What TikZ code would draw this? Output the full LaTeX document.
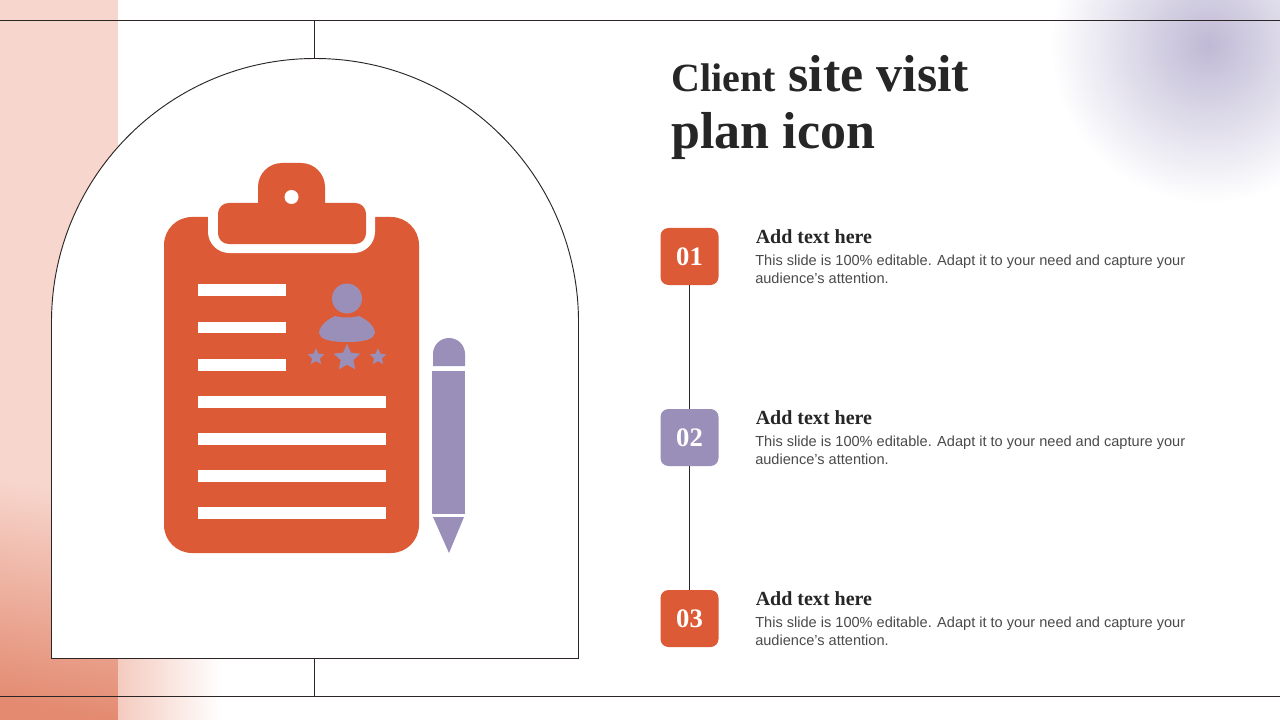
\documentclass[tikz,border=0pt]{standalone}
\usepackage{fontspec}
\usetikzlibrary{shapes.geometric}
\setmainfont{Liberation Sans}
\newfontfamily\headfont{Liberation Serif}
\definecolor{rust}{HTML}{DD5A36}
\definecolor{lilac}{HTML}{9A8FB9}
\definecolor{blush}{HTML}{F7D6CD}
\definecolor{salmon}{HTML}{E38A70}
\definecolor{haze}{HTML}{BFB9D5}
\definecolor{inkline}{HTML}{2B2526}
\definecolor{inktext}{HTML}{262626}
\definecolor{greytext}{HTML}{4A4A4A}
\tikzset{
  rule/.style={draw=inkline,line width=.7pt},
  badge/.style={fill=#1,rounded corners=6pt,minimum width=43.5pt,minimum height=42.75pt,inner sep=0pt,text=white,font=\headfont\bfseries\fontsize{20}{20}\selectfont},
  caption/.style={anchor=base west,inner sep=0pt,text=inktext,font=\headfont\bfseries\fontsize{15}{15}\selectfont},
  blurb/.style={anchor=north west,inner sep=0pt,align=left,text=greytext,font=\fontsize{10.93}{13.5}\selectfont},
  bigtitle/.style={anchor=base west,inner sep=0pt,text=inktext,font=\headfont\bfseries\fontsize{39}{39}\selectfont},
  ratestar/.style={star,star points=5,star point ratio=2.1,fill=lilac,inner sep=0pt,minimum size=#1},
}
\begin{document}
\begin{tikzpicture}[x=.75pt,y=-.75pt]
       \useasboundingbox (0,0) rectangle (1280,720);
       \fill [white] (0,0) rectangle (1280,720);
       \shade [inner color=haze,outer color=white] (1208,45) circle (158);
       \fill [blush] (0,0) rectangle (118,480);
       \shade [shading=axis,top color=blush,bottom color=salmon,shading angle=-10] (0,480) rectangle (118,720);
       \shade [left color=blush!85!salmon,right color=white] (118,658) rectangle (222,720);
       \draw [rule] (0,20.5) -- (1280,20.5);
       \draw [rule] (0,696.5) -- (1280,696.5);
       \draw [rule] (314.5,20.5) -- ++(0,38);
       \draw [rule] (314.5,658.5) -- ++(0,38);
       \draw [rule,fill=white] (51.5,658.5) -- (51.5,322) arc [start angle=180,end angle=360,radius=263.5] -- (578.5,658.5) -- cycle;
       \fill [rust,rounded corners=21pt] (164,217) rectangle (419,553);
       \fill [white,rounded corners=16pt] (208,190) rectangle (375,253);
       \fill [rust,rounded corners=8pt] (218,203) -- (366,203) -- (366,244) -- (218,244) -- cycle;
       \fill [rust,rounded corners=18pt] (258,235) -- (258,163) -- (325,163) -- (325,235) -- cycle;
       \fill [white] (291.5,197) circle (7);
       \fill [white] (198,284) rectangle ++(88,12);
       \fill [white] (198,322) rectangle ++(88,11);
       \fill [white] (198,359) rectangle ++(88,12);
       \fill [white] (198,396) rectangle ++(188,12);
       \fill [white] (198,433) rectangle ++(188,12);
       \fill [white] (198,470) rectangle ++(188,12);
       \fill [white] (198,507) rectangle ++(188,12);
       \fill [lilac] (347,298.5) circle (15);
       \fill [lilac] (319,333) .. controls (320,325) and (327,320) .. (335,316) .. controls (342,318) and (352,318) .. (359,316) .. controls (367,320) and (374,325) .. (375,333) .. controls (374,339) and (365,342) .. (347,342) .. controls (329,342) and (320,339) .. (319,333) -- cycle;
       \node [ratestar=13pt] (leftstar) at (316,357) {};
       \node [ratestar=21pt] (midstar) at (347,358) {};
       \node [ratestar=13pt] (rightstar) at (378,357) {};
       \fill [lilac] (433,366) -- (433,354) arc [start angle=180,end angle=360,radius=16] -- (465,366) -- cycle;
       \fill [lilac] (432,371) rectangle (465,514);
       \fill [lilac] (433,517) -- (464,517) -- (449,553) -- cycle;
       \node [bigtitle] (titletop) at (671,91.5) {{\fontsize{30}{30}\selectfont Client} site visit};
       \node [bigtitle] (titlelow) at (671,148.5) {plan icon};
       \node [badge=rust] (one) at (689.5,256.5) {01};
       \node [badge=lilac] (two) at (689.5,437.5) {02};
       \node [badge=rust] (three) at (689.5,618.5) {03};
       \draw [rule] (one) -- (two);
       \draw [rule] (two) -- (three);
       \node [caption] (capone) at (755.5,243.5) {Add text here};
       \node [blurb] (blurbone) at (755,254.5) {This slide is 100\% editable. Adapt it to your need and capture your\\audience's attention.};
       \node [caption] (captwo) at (755.5,424.5) {Add text here};
       \node [blurb] (blurbtwo) at (755,435.5) {This slide is 100\% editable. Adapt it to your need and capture your\\audience's attention.};
       \node [caption] (capthree) at (755.5,605.5) {Add text here};
       \node [blurb] (blurbthree) at (755,616.5) {This slide is 100\% editable. Adapt it to your need and capture your\\audience's attention.};
\end{tikzpicture}
\end{document}
